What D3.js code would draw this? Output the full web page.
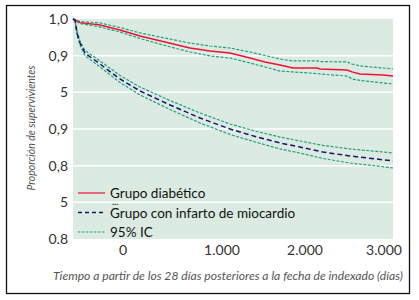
<html>
<head>
<meta charset="utf-8">
<title>Supervivencia</title>
<script src="https://cdn.jsdelivr.net/npm/d3@7"></script>
<style>
  body { margin: 0; background: #fff; }
  text { font-family: Lato, "Open Sans", sans-serif; }
</style>
</head>
<body>
<script>
// días desde el inicio y proporción de supervivientes
var diabDias = [0, 20, 70, 270, 470, 670, 920, 1170, 1370, 1570, 1770, 1920, 2070, 2200, 2440, 2470, 2740, 2790, 2870, 3100, 3200];
var diab    = [1.0, 0.9993, 0.9975, 0.9959, 0.9925, 0.9884, 0.9843, 0.9802, 0.9782, 0.9768, 0.9734, 0.9707, 0.9686, 0.9666, 0.9666, 0.9659, 0.9652, 0.9639, 0.9625, 0.9618, 0.9611];
var diabSup = [1.0, 0.9997, 0.9983, 0.9973, 0.9942, 0.9905, 0.9870, 0.9836, 0.9816, 0.9802, 0.9775, 0.9751, 0.9727, 0.9714, 0.9714, 0.9710, 0.9707, 0.9693, 0.9680, 0.9666, 0.9659];
var diabInf = [1.0, 0.9990, 0.9969, 0.9945, 0.9911, 0.9867, 0.9819, 0.9775, 0.9748, 0.9734, 0.9700, 0.9673, 0.9645, 0.9639, 0.9628, 0.9625, 0.9611, 0.9591, 0.9581, 0.9564, 0.9557];

var iamDias = [0, 20, 40, 70, 120, 270, 470, 670, 970, 1270, 1570, 1840, 2070, 2270, 2500, 2770, 3040, 3200];
var iam    = [1.0, 0.9993, 0.9905, 0.9836, 0.9768, 0.9693, 0.9591, 0.9509, 0.9414, 0.9325, 0.9250, 0.9195, 0.9155, 0.9127, 0.9093, 0.9066, 0.9045, 0.9032];
var iamSup = [1.0, 0.9997, 0.9918, 0.9850, 0.9785, 0.9714, 0.9615, 0.9536, 0.9444, 0.9359, 0.9284, 0.9233, 0.9195, 0.9168, 0.9138, 0.9114, 0.9097, 0.9086];
var iamInf = [1.0, 0.9986, 0.9891, 0.9823, 0.9751, 0.9673, 0.9567, 0.9482, 0.9383, 0.9291, 0.9213, 0.9158, 0.9114, 0.9086, 0.9049, 0.9018, 0.8998, 0.8984];

var yTicks = [1.0, 0.975, 0.95, 0.925, 0.9, 0.875, 0.85];
var yLabels = ["1,0", "0,9", "5", "0,9", "0,8", "5", "0.8"];
var xTicks = [0, 1000, 2000, 3000];
var xLabels = ["0", "1.000", "2.000", "3.000"];
var leyenda = ["Grupo diabético", "Grupo con infarto de miocardio", "95% IC"];

var width = 419, height = 300;
var pIzq = 73, pDer = 393, pSup = 19, pInf = 239;

var svg = d3.select("body").append("svg")
  .attr("width", width)
  .attr("height", height);

// marco
svg.append("rect")
  .attr("x", 6.5).attr("y", 5.5)
  .attr("width", 403).attr("height", 288)
  .attr("fill", "none")
  .attr("stroke", "#111")
  .attr("stroke-width", 1.3);

var x = d3.scaleLinear().domain([0, 3200]).range([pIzq, pDer]);
var y = d3.scaleLinear().domain([0.85, 1.0]).range([pInf, pSup]);
// las etiquetas del eje x no están espaciadas por igual en el original
var xEje = d3.scaleLinear().domain(xTicks).range([pIzq + 50, pIzq + 149, pIzq + 232, pIzq + 311]);

svg.append("rect")
  .attr("x", pIzq).attr("y", pSup)
  .attr("width", pDer - pIzq).attr("height", pInf - pSup)
  .attr("fill", "#dcebe2");

svg.selectAll(".grid")
  .data(yTicks.slice(1, -1))
  .enter().append("line")
  .attr("x1", pIzq).attr("x2", pDer)
  .attr("y1", function(d) { return y(d); })
  .attr("y2", function(d) { return y(d); })
  .attr("stroke", "#fff")
  .attr("stroke-width", 1.5);

svg.selectAll(".ylab")
  .data(yTicks)
  .enter().append("text")
  .attr("x", 68)
  .attr("y", function(d) { return y(d) + 5; })
  .attr("text-anchor", "end")
  .attr("font-size", 14)
  .attr("fill", "#333")
  .text(function(d, i) { return yLabels[i]; });

svg.selectAll(".xlab")
  .data(xTicks)
  .enter().append("text")
  .attr("x", function(d) { return xEje(d); })
  .attr("y", 255)
  .attr("text-anchor", "middle")
  .attr("font-size", 14)
  .attr("fill", "#333")
  .text(function(d, i) { return xLabels[i]; });

// títulos de ejes
svg.append("text")
  .attr("transform", "translate(35,128) rotate(-90)")
  .attr("text-anchor", "middle")
  .attr("font-size", 11)
  .attr("font-style", "italic")
  .attr("fill", "#555")
  .attr("textLength", 125)
  .attr("lengthAdjust", "spacingAndGlyphs")
  .text("Proporción de supervivientes");

svg.append("text")
  .attr("x", 403).attr("y", 280)
  .attr("text-anchor", "end")
  .attr("font-size", 11)
  .attr("font-style", "italic")
  .attr("fill", "#555")
  .attr("textLength", 350)
  .attr("lengthAdjust", "spacingAndGlyphs")
  .text("Tiempo a partir de los 28 días posteriores a la fecha de indexado (días)");

function linea(dias, valores) {
  return d3.line()
    .x(function(d, i) { return x(dias[i]); })
    .y(function(d) { return y(d); })(valores);
}

var estiloIC = { color: "#22a07c", dash: "3,1.5", ancho: 1.2 };
var series = [
  { dias: diabDias, v: diabSup, color: estiloIC.color, dash: estiloIC.dash, ancho: estiloIC.ancho },
  { dias: diabDias, v: diabInf, color: estiloIC.color, dash: estiloIC.dash, ancho: estiloIC.ancho },
  { dias: iamDias, v: iamSup, color: estiloIC.color, dash: estiloIC.dash, ancho: estiloIC.ancho },
  { dias: iamDias, v: iamInf, color: estiloIC.color, dash: estiloIC.dash, ancho: estiloIC.ancho },
  { dias: diabDias, v: diab, color: "#ee1131", dash: null, ancho: 1.4 },
  { dias: iamDias, v: iam, color: "#14146e", dash: "5,3", ancho: 1.5 }
];

svg.selectAll(".curva")
  .data(series)
  .enter().append("path")
  .attr("d", function(d) { return linea(d.dias, d.v); })
  .attr("fill", "none")
  .attr("stroke", function(d) { return d.color; })
  .attr("stroke-width", function(d) { return d.ancho; })
  .attr("stroke-dasharray", function(d) { return d.dash; });

// leyenda
var estilosLeyenda = [
  { color: "#ee1131", dash: null, ancho: 1.2 },
  { color: "#14146e", dash: "4,3", ancho: 1.4 },
  { color: "#22a07c", dash: "2.5,1.5", ancho: 1.1 }
];
var ley = svg.selectAll(".ley")
  .data(leyenda)
  .enter().append("g")
  .attr("transform", function(d, i) { return "translate(78," + (193 + i * 19.5) + ")"; });

ley.append("line")
  .attr("x1", 0).attr("x2", 27)
  .attr("stroke", function(d, i) { return estilosLeyenda[i].color; })
  .attr("stroke-width", function(d, i) { return estilosLeyenda[i].ancho; })
  .attr("stroke-dasharray", function(d, i) { return estilosLeyenda[i].dash; });

ley.append("text")
  .attr("x", 32).attr("y", 5)
  .attr("font-size", 13.5)
  .attr("fill", "#111")
  .text(function(d) { return d; });

svg.append("text")
  .attr("x", 112).attr("y", 205)
  .attr("font-size", 9)
  .attr("fill", "#111")
  .text("...");
</script>
</body>
</html>
